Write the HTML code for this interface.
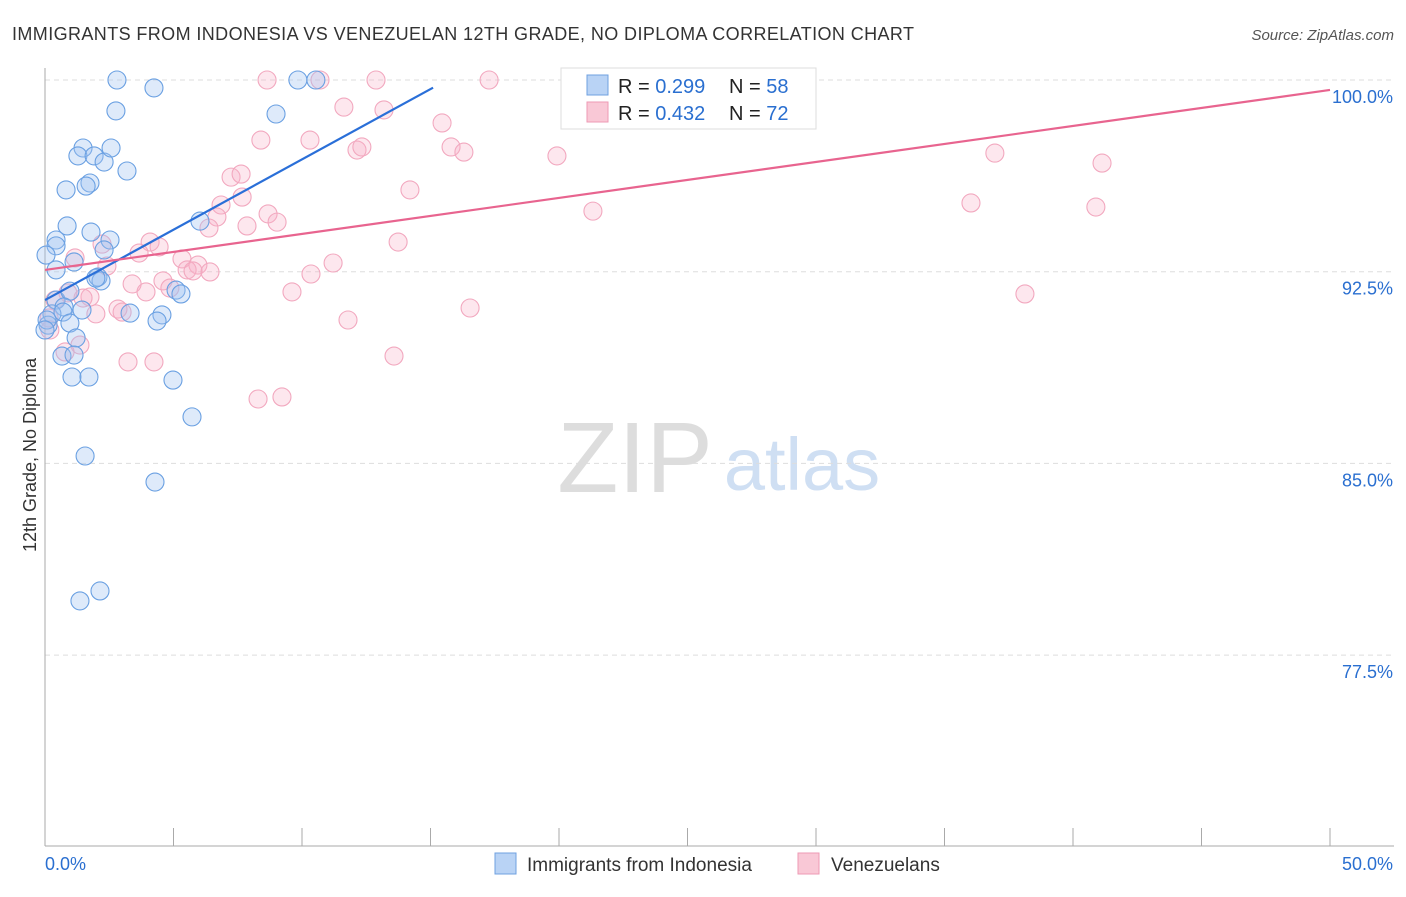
<!DOCTYPE html>
<html><head><meta charset="utf-8"><style>
body{margin:0;background:#fff;font-family:"Liberation Sans",sans-serif;}
svg text{font-family:"Liberation Sans",sans-serif;}
</style></head><body>
<svg id="chart" width="1406" height="892" xmlns="http://www.w3.org/2000/svg">
<text x="12" y="40" font-size="18" fill="#333" textLength="902">IMMIGRANTS FROM INDONESIA VS VENEZUELAN 12TH GRADE, NO DIPLOMA CORRELATION CHART</text>
<text x="1394" y="40" font-size="15" fill="#555" text-anchor="end" font-style="italic">Source: ZipAtlas.com</text>
<text x="36" y="455" font-size="18" fill="#333" text-anchor="middle" transform="rotate(-90 36 455)">12th Grade, No Diploma</text>
<g><text x="635" y="492" font-size="100" fill="#ddd" text-anchor="middle" font-family="Liberation Serif">ZIP</text><text x="802" y="490" font-size="74" fill="#cfdff3" text-anchor="middle">atlas</text></g>
<g id="grid"></g><g id="axes"></g><g id="pts"></g><g id="trend"></g>
<g>
<rect x="561" y="68" width="255" height="61" fill="#fff" stroke="#ddd"/>
<rect x="587" y="75" width="21" height="20" fill="#b9d3f5" stroke="#6fa0e0"/>
<rect x="587" y="102" width="21" height="20" fill="#f9c8d6" stroke="#ee9ab4"/>
<text x="618" y="93" font-size="20" fill="#222">R = <tspan fill="#2a6fd0">0.299</tspan></text>
<text x="729" y="93" font-size="20" fill="#222">N = <tspan fill="#2a6fd0">58</tspan></text>
<text x="618" y="120" font-size="20" fill="#222">R = <tspan fill="#2a6fd0">0.432</tspan></text>
<text x="729" y="120" font-size="20" fill="#222">N = <tspan fill="#2a6fd0">72</tspan></text>
</g>
<g>
<rect x="495" y="853" width="21" height="21" fill="#b9d3f5" stroke="#6fa0e0"/>
<text x="527" y="871" font-size="19" fill="#333">Immigrants from Indonesia</text>
<rect x="798" y="853" width="21" height="21" fill="#f9c8d6" stroke="#ee9ab4"/>
<text x="831" y="871" font-size="19" fill="#333">Venezuelans</text>
</g>
</svg>
<script>
const blueX=[2.80,4.24,2.76,8.99,9.84,10.54,1.48,1.28,1.91,2.30,2.57,3.19,1.75,1.60,0.82,0.86,1.79,0.43,2.53,0.43,2.30,0.04,1.13,0.43,2.06,2.18,1.98,0.43,0.97,5.10,5.29,0.74,0.27,0.70,1.44,3.31,4.55,4.36,0.97,0.12,0.08,1.21,0.66,1.13,1.05,1.71,4.98,5.72,1.56,4.28,1.36,2.14,6.03,0.0];
const blueY=[100,99.69,98.79,98.67,100,100,97.34,97.03,97.03,96.79,97.34,96.44,95.97,95.85,95.70,94.29,94.05,93.74,93.74,93.51,93.35,93.15,92.88,92.57,92.29,92.14,92.25,91.39,91.74,91.78,91.63,91.12,90.85,90.92,91.00,90.88,90.81,90.57,90.49,90.41,90.61,89.91,89.20,89.24,88.38,88.38,88.26,86.82,85.29,84.27,79.62,80.01,94.48,90.22];
const pinkX=[8.64,10.70,12.88,17.28,11.63,13.19,15.45,8.40,10.31,12.14,12.33,15.80,16.30,19.92,36.96,41.13,7.24,7.63,14.20,7.67,6.85,6.69,8.68,9.03,7.86,6.38,21.32,36.03,40.89,13.74,4.09,4.44,3.66,2.22,1.17,2.41,5.33,5.95,5.53,5.76,6.42,11.21,10.35,3.39,4.59,4.86,3.93,1.75,1.48,0.89,9.61,2.84,3.00,1.98,0.39,0.16,16.54,11.79,38.13,1.36,0.78,3.23,4.24,13.58,8.29,9.22,0.19];
const pinkY=[100,100,100,100,98.94,98.83,98.32,97.65,97.65,97.26,97.38,97.38,97.18,97.03,97.14,96.75,96.20,96.32,95.70,95.42,95.11,94.64,94.76,94.44,94.29,94.21,94.87,95.19,95.03,93.66,93.66,93.47,93.23,93.58,93.04,92.72,93.00,92.76,92.57,92.53,92.49,92.84,92.41,92.02,92.14,91.86,91.71,91.51,91.47,91.67,91.71,91.04,90.92,90.85,91.39,90.69,91.08,90.61,91.63,89.63,89.36,88.97,88.97,89.20,87.52,87.60,90.22];
const yTicks=[100,92.5,85,77.5];
const yTickLabels=["100.0%","92.5%","85.0%","77.5%"];
const blueTrend=[[0,91.39],[15.1,99.7]];
const pinkTrend=[[0,92.57],[50,99.61]];
const NS="http://www.w3.org/2000/svg";
const sx=v=>45+v*25.7, sy=v=>80+(100-v)*25.56;
function mk(p,t,a){const e=document.createElementNS(NS,t);for(const k in a)e.setAttribute(k,a[k]);p.appendChild(e);return e;}
const grid=document.getElementById('grid'),axes=document.getElementById('axes');
yTicks.forEach((t,i)=>{
 const l=mk(grid,'line',{x1:45,x2:1394,y1:sy(t),y2:sy(t),stroke:'#ddd','stroke-dasharray':'5,4'});
 
 
 const tx=mk(axes,'text',{x:1393,y:sy(t)+23,'font-size':18,fill:'#2a6fd0','text-anchor':'end'});
 tx.textContent=yTickLabels[i];
 
 
});
const ax=mk(axes,'line',{x1:45,x2:45,y1:68,y2:846,stroke:'#aaa'});


const bx=mk(axes,'line',{x1:45,x2:1394,y1:846,y2:846,stroke:'#aaa'});


for(let i=0;i<=10;i++){const t=mk(axes,'line',{x1:sx(i*5),x2:sx(i*5),y1:828,y2:846,stroke:'#aaa'});
 
 }
const xl=mk(axes,'text',{x:45,y:870,'font-size':18,fill:'#2a6fd0'});xl.textContent='0.0%';


const xr=mk(axes,'text',{x:1393,y:870,'font-size':18,fill:'#2a6fd0','text-anchor':'end'});xr.textContent='50.0%';


const pts=document.getElementById('pts');
pinkX.forEach((x,i)=>{const c=mk(pts,'circle',{cx:sx(x),cy:sy(pinkY[i]),r:9,fill:'rgba(247,175,198,0.3)',stroke:'#f2a8bf','stroke-width':1.1});
 
 });
blueX.forEach((x,i)=>{const c=mk(pts,'circle',{cx:sx(x),cy:sy(blueY[i]),r:9,fill:'rgba(160,196,240,0.35)',stroke:'#6aa0e2','stroke-width':1.1});
 
 });
const tr=document.getElementById('trend');
const tb=mk(tr,'line',{x1:sx(blueTrend[0][0]),y1:sy(blueTrend[0][1]),x2:sx(blueTrend[1][0]),y2:sy(blueTrend[1][1]),stroke:'#2a6fd8','stroke-width':2.2});


const tp=mk(tr,'line',{x1:sx(pinkTrend[0][0]),y1:sy(pinkTrend[0][1]),x2:sx(pinkTrend[1][0]),y2:sy(pinkTrend[1][1]),stroke:'#e8648f','stroke-width':2.2});


</script>
</body></html>
